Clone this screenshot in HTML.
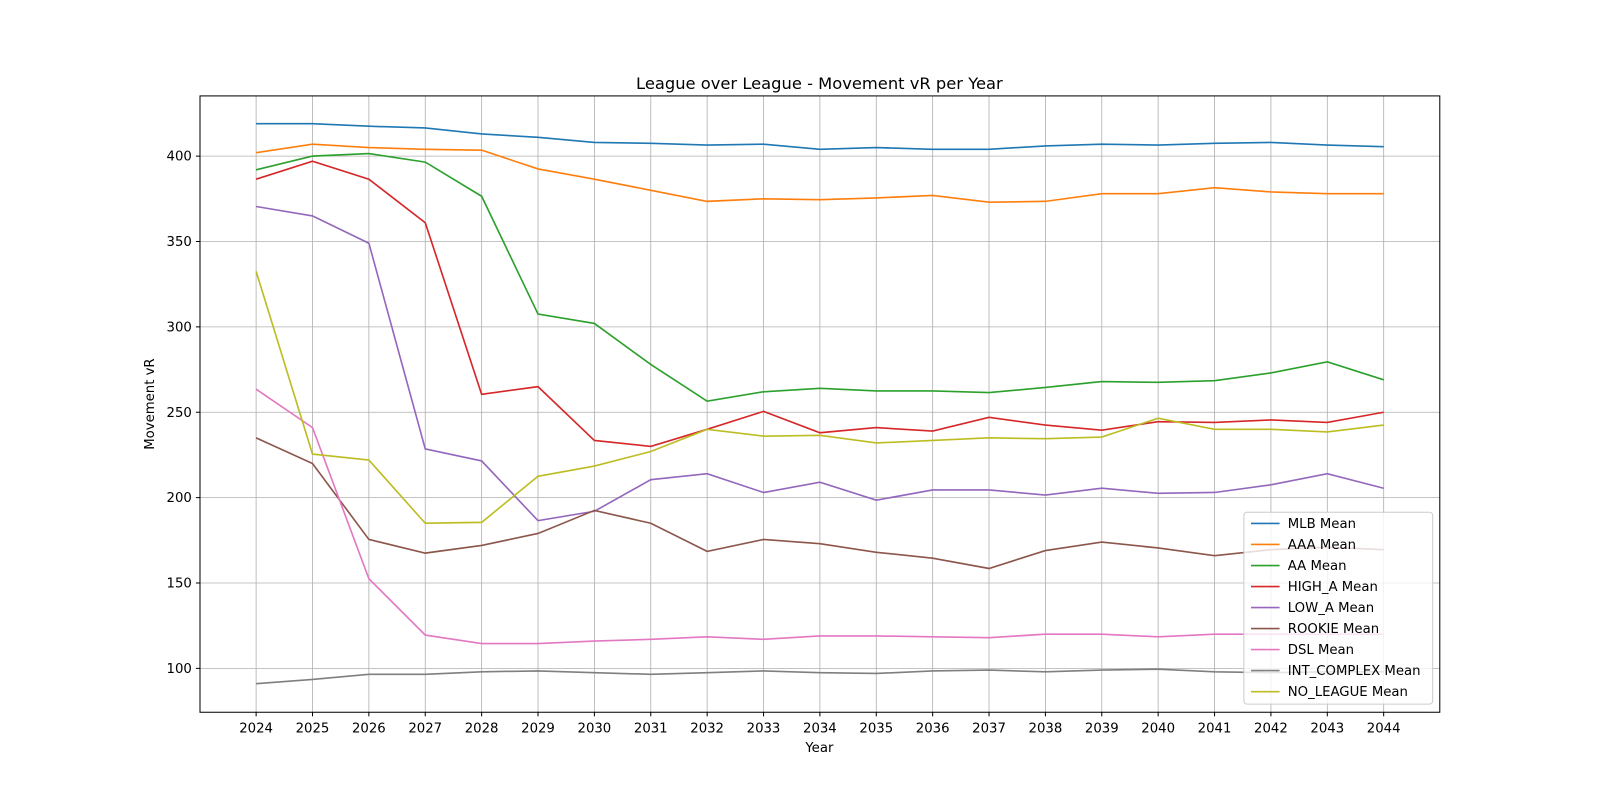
<!DOCTYPE html>
<html><head><meta charset="utf-8"><style>
body{margin:0;background:#fff;}
svg{font-family:"DejaVu Sans","Liberation Sans",sans-serif;display:block;}
</style></head><body>
<svg width="1600" height="800" xmlns="http://www.w3.org/2000/svg"><rect width="1600" height="800" fill="#fff"/><g id="c" transform="scale(1.020408)"></g></svg>
<script>
const s=document.getElementById('c');
const X0=251,DX=55.25,Y=v=>655-(v-100)*1.67333;
let h='';
for(let i=0;i<21;i++){const x=X0+i*DX;h+=`<line x1="${x}" y1="94" x2="${x}" y2="698" stroke="#b0b0b0" stroke-width="0.8"/><line x1="${x}" y1="698" x2="${x}" y2="702" stroke="#000"/><text x="${x}" y="718" font-size="13" text-anchor="middle">${2024+i}</text>`;}
for(let v=100;v<=400;v+=50){const y=Y(v);h+=`<line x1="196" y1="${y}" x2="1411" y2="${y}" stroke="#b0b0b0" stroke-width="0.8"/><line x1="192" y1="${y}" x2="196" y2="${y}" stroke="#000"/><text x="188" y="${y+4.5}" font-size="13" text-anchor="end">${v}</text>`;}
const D=[
["MLB Mean","#1f77b4",[419,419,417.5,416.5,413,411,408,407.5,406.5,407,404,405,404,404,406,407,406.5,407.5,408,406.5,405.5]],
["AAA Mean","#ff7f0e",[402,407,405,404,403.5,392.5,386.5,380,373.5,375,374.5,375.5,377,373,373.5,378,378,381.5,379,378,378]],
["AA Mean","#2ca02c",[392,400,401.5,396.5,376.5,307.5,302,278,256.5,262,264,262.5,262.5,261.5,264.5,268,267.5,268.5,273,279.5,269]],
["HIGH_A Mean","#d62728",[386.5,397,386.5,361,260.5,265,233.5,230,240,250.5,238,241,239,247,242.5,239.5,244.5,244,245.5,244,250]],
["LOW_A Mean","#9467bd",[370.5,365,349,228.5,221.5,186.5,192,210.5,214,203,209,198.5,204.5,204.5,201.5,205.5,202.5,203,207.5,214,205.5]],
["ROOKIE Mean","#8c564b",[235,220,175.5,167.5,172,179,192.5,185,168.5,175.5,173,168,164.5,158.5,169,174,170.5,166,169.5,171,169.5]],
["DSL Mean","#e377c2",[263.5,241,152.5,119.5,114.5,114.5,116,117,118.5,117,119,119,118.5,118,120,120,118.5,120,120,120,120]],
["INT_COMPLEX Mean","#7f7f7f",[91,93.5,96.5,96.5,98,98.5,97.5,96.5,97.5,98.5,97.5,97,98.5,99,98,99,99.5,98,97.5,98,98]],
["NO_LEAGUE Mean","#bcbd22",[332.5,225.5,222,185,185.5,212.5,218.5,227,240,236,236.5,232,233.5,235,234.5,235.5,246.5,240,240,238.5,242.5]]];
D.forEach(d=>{h+=`<polyline fill="none" stroke="${d[1]}" stroke-width="1.6" points="${d[2].map((v,i)=>(X0+i*DX)+','+Y(v)).join(' ')}"/>`;});
h+='<rect x="196" y="94" width="1215" height="604" fill="none" stroke="#000" stroke-width="1"/>';
h+='<rect x="1219" y="502" width="185" height="188" rx="3" fill="#fff" fill-opacity="0.8" stroke="#ccc"/>';
D.forEach((d,i)=>{const y=513+i*20.6;h+=`<line x1="1226" y1="${y}" x2="1254" y2="${y}" stroke="${d[1]}" stroke-width="1.6"/><text x="1262" y="${y+4.5}" font-size="13">${d[0]}</text>`;});
h+='<text x="803" y="87" font-size="16" text-anchor="middle">League over League - Movement vR per Year</text>';
h+='<text x="803" y="737" font-size="13" text-anchor="middle">Year</text>';
h+='<text transform="translate(151,396) rotate(-90)" font-size="13" text-anchor="middle">Movement vR</text>';
s.innerHTML=h;
</script>
</body></html>
